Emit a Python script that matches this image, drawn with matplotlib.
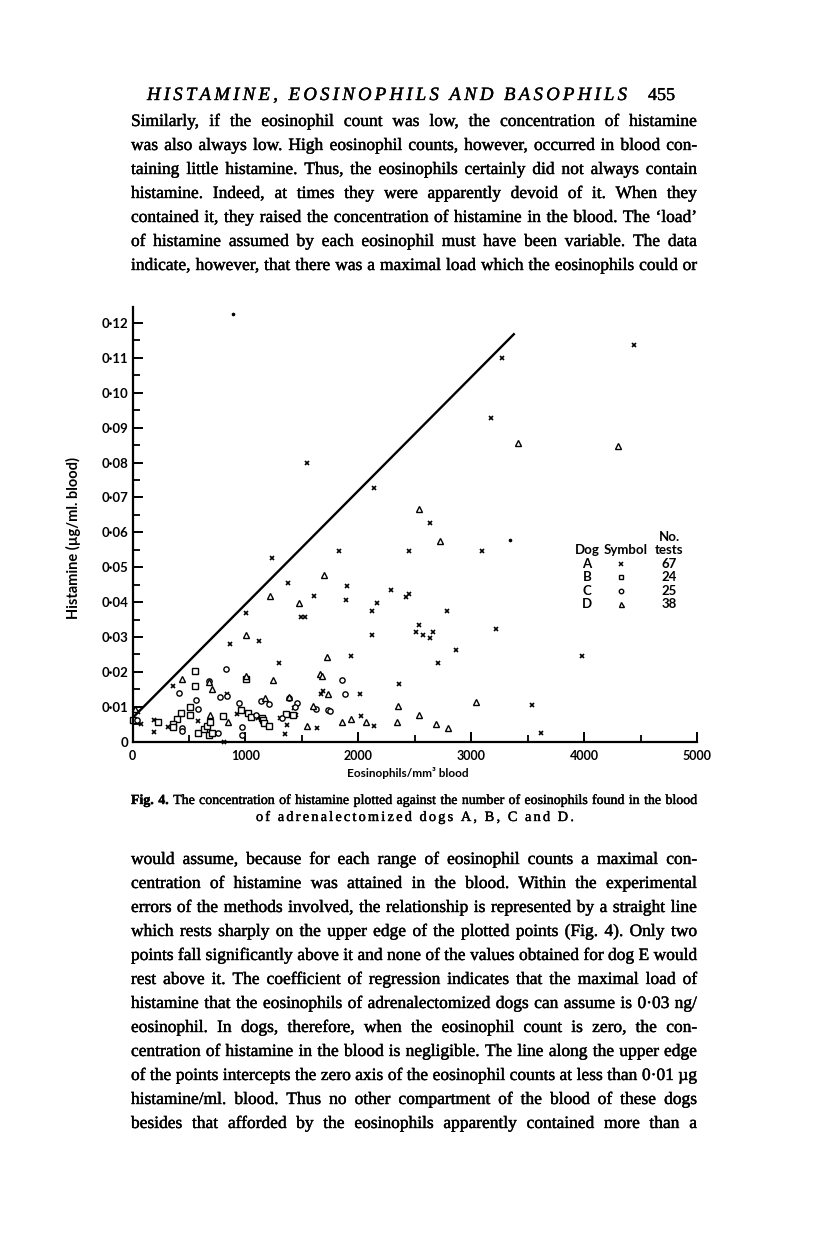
import matplotlib
matplotlib.use("Agg")
import matplotlib.pyplot as plt
import matplotlib.patheffects as pe
from matplotlib.ticker import MultipleLocator, FixedLocator

#### data

# dog A, crosses
a_x = [4440, 3270, 3175, 1545, 2135, 2635, 1830, 2452, 3093, 1240, 1897, 1380,
       2290, 2420, 2450, 1605, 1888, 2166, 2124, 2783, 1003, 1495, 1525, 2538,
       2508, 2665, 2573, 2635, 2124, 3217, 2865, 1120, 864, 1938, 2706, 3984,
       1295, 2358, 1690, 1670, 2018, 3539, 2021, 2139, 1634, 3618, 356, 834,
       583, 928, 1114, 1306, 1448, 1430, 1366, 1355, 810, 312, 190, 193, 75, 50]
a_y = [0.1137, 0.1100, 0.0928, 0.0799, 0.0728, 0.0628, 0.0546, 0.0546, 0.0546,
       0.0527, 0.0446, 0.0456, 0.0435, 0.0416, 0.0423, 0.0417, 0.0406, 0.0397,
       0.0375, 0.0374, 0.0368, 0.0356, 0.0356, 0.0334, 0.0315, 0.0315, 0.0305,
       0.0298, 0.0305, 0.0323, 0.0264, 0.0288, 0.0279, 0.0245, 0.0225, 0.0246,
       0.0226, 0.0165, 0.0146, 0.0137, 0.0136, 0.0106, 0.0075, 0.0045, 0.0040,
       0.0024, 0.0160, 0.0137, 0.0059, 0.0079, 0.0069, 0.0067, 0.0077, 0.0097,
       0.0048, 0.0023, 0.0000, 0.0041, 0.0027, 0.0062, 0.0051, 0.0085]

# dog B, squares
b_x = [551, 553, 509, 509, 427, 397, 356, 362, 229, 2, 580, 633, 657, 686, 678,
       701, 799, 958, 1003, 1026, 1050, 1145, 1160, 1169, 1212, 1360, 1424]
b_y = [0.0203, 0.0160, 0.0100, 0.0077, 0.0081, 0.0065, 0.0051, 0.0041, 0.0057,
       0.0062, 0.0026, 0.0036, 0.0046, 0.0056, 0.0019, 0.0024, 0.0074, 0.0091,
       0.0179, 0.0083, 0.0072, 0.0068, 0.0061, 0.0053, 0.0046, 0.0079, 0.0077]

# dog C, circles
c_x = [826, 412, 560, 583, 438, 441, 42, 760, 775, 834, 943, 970, 967, 1094,
       1138, 1209, 1390, 1454, 1440, 1327, 678, 1856, 1879, 1625, 1735, 1750]
c_y = [0.0208, 0.0140, 0.0120, 0.0093, 0.0038, 0.0031, 0.0062, 0.0026, 0.0129,
       0.0131, 0.0110, 0.0043, 0.0019, 0.0077, 0.0117, 0.0108, 0.0124, 0.0110,
       0.0100, 0.0069, 0.0175, 0.0176, 0.0136, 0.0093, 0.0092, 0.0089]

# dog D, triangles
d_x = [3415, 4300, 2540, 2721, 1693, 1218, 1472, 1005, 1725, 1661, 1676, 1732,
       3045, 1599, 2354, 2538, 1858, 1935, 2068, 2343, 2688, 2792, 1546, 436,
       678, 707, 684, 849, 1003, 1245, 1174, 1383, 22]
d_y = [0.0857, 0.0847, 0.0667, 0.0576, 0.0477, 0.0417, 0.0398, 0.0307, 0.0244,
       0.0194, 0.0187, 0.0138, 0.0115, 0.0103, 0.0103, 0.0077, 0.0057, 0.0066,
       0.0056, 0.0056, 0.0052, 0.0040, 0.0044, 0.0181, 0.0170, 0.0150, 0.0077,
       0.0056, 0.0188, 0.0177, 0.0124, 0.0127, 0.0093]

# loose dots on the plate
speck_x = [893, 3340]
speck_y = [0.1225, 0.0578]

# the upper-edge line
line_x = [0, 3385]
line_y = [0.0068, 0.1170]

y_ticks = [0.00, 0.01, 0.02, 0.03, 0.04, 0.05, 0.06, 0.07, 0.08, 0.09, 0.10, 0.11, 0.12]
y_tick_labels = ["0", "0\u00b701", "0\u00b702", "0\u00b703", "0\u00b704", "0\u00b705",
                 "0\u00b706", "0\u00b707", "0\u00b708", "0\u00b709", "0\u00b710",
                 "0\u00b711", "0\u00b712"]
x_ticks = [0, 1000, 2000, 3000, 4000, 5000]
x_tick_labels = ["0", "1000", "2000", "3000", "4000", "5000"]

legend_dogs = ["A", "B", "C", "D"]
legend_tests = ["67", "24", "25", "38"]

header = "HISTAMINE, EOSINOPHILS AND BASOPHILS"
page_no = "455"

top_lines = [
    "Similarly, if the eosinophil count was low, the concentration of histamine",
    "was also always low. High eosinophil counts, however, occurred in blood con-",
    "taining little histamine. Thus, the eosinophils certainly did not always contain",
    "histamine. Indeed, at times they were apparently devoid of it. When they",
    "contained it, they raised the concentration of histamine in the blood. The \u2018load\u2019",
    "of histamine assumed by each eosinophil must have been variable. The data",
    "indicate, however, that there was a maximal load which the eosinophils could or",
]

caption_1 = "The concentration of histamine plotted against the number of eosinophils found in the blood"
caption_2 = "of adrenalectomized dogs A, B, C and D."

bottom_lines = [
    "would assume, because for each range of eosinophil counts a maximal con-",
    "centration of histamine was attained in the blood. Within the experimental",
    "errors of the methods involved, the relationship is represented by a straight line",
    "which rests sharply on the upper edge of the plotted points (Fig. 4). Only two",
    "points fall significantly above it and none of the values obtained for dog E would",
    "rest above it. The coefficient of regression indicates that the maximal load of",
    "histamine that the eosinophils of adrenalectomized dogs can assume is 0\u00b703 ng/",
    "eosinophil. In dogs, therefore, when the eosinophil count is zero, the con-",
    "centration of histamine in the blood is negligible. The line along the upper edge",
    "of the points intercepts the zero axis of the eosinophil counts at less than 0\u00b701 \u00b5g",
    "histamine/ml. blood. Thus no other compartment of the blood of these dogs",
    "besides that afforded by the eosinophils apparently contained more than a",
]

#### page setup

W, H = 816, 1258
fig = plt.figure(figsize=(W / 100, H / 100), dpi=100)
fig.patch.set_facecolor("white")
renderer = fig.canvas.get_renderer()

SERIF = "Liberation Serif"
SANS = "Lato"
INK = [pe.withStroke(linewidth=0.3, foreground="black")]  # scanned type is heavy


def fx(px):
    return px / W


def fy(py):
    return 1 - py / H


def text_width(s, size, **kw):
    t = fig.text(0, 0, s, fontsize=size, **kw)
    w = t.get_window_extent(renderer).width
    t.remove()
    return w


def justify(words, y_base, x0, x1, size, min_gap=0.2):
    """ words: list of (word, style dict); spreads them from x0 to x1,
    shrinking the size a bit if the line cannot fit """
    widths = [text_width(w, size, **kw) for w, kw in words]
    need = sum(widths) + min_gap * size * 100 / 72 * (len(words) - 1)
    if need > x1 - x0:
        size *= (x1 - x0) / need
        widths = [text_width(w, size, **kw) for w, kw in words]
    gap = (x1 - x0 - sum(widths)) / max(len(words) - 1, 1)
    x = x0
    for (w, kw), wd in zip(words, widths):
        fig.text(fx(x), fy(y_base), w, fontsize=size, va="baseline", ha="left",
                 path_effects=INK, **kw)
        x += wd + gap


def tracked(s, y_base, x0, x1, size, **kw):
    """ letter-spaced line filling x0..x1 """
    chars = list(s)
    widths = [text_width(c, size, **kw) if c != " " else size * 0.3 for c in chars]
    gap = (x1 - x0 - sum(widths)) / (len(chars) - 1)
    x = x0
    for c, w in zip(chars, widths):
        if c != " ":
            fig.text(fx(x), fy(y_base), c, fontsize=size, va="baseline", ha="left",
                     path_effects=INK, **kw)
        x += w + gap


# body size: a typical line sets at about 95 % of the measure
LEFT, RIGHT = 131, 697
body_kw = dict(family=SERIF)
nat = sorted(text_width(s, 10, **body_kw) for s in top_lines + bottom_lines)
body_size = 10 * 0.95 * (RIGHT - LEFT) / nat[len(nat) // 2]

#### running head

tracked(header, 100, 147, 627, 13.5, family=SERIF, style="italic")
fig.text(fx(648), fy(100), page_no, fontsize=13, family=SERIF, va="baseline",
         ha="left", path_effects=INK)

#### top paragraph

for i, s in enumerate(top_lines):
    justify([(w, body_kw) for w in s.split()], 126 + 24 * i, LEFT, RIGHT, body_size)

#### chart

ax = fig.add_axes([fx(132.5), fy(741.7), fx(697) - fx(132.5), (741.7 - 307) / H])
ax.set_xlim(0, 5000)
ax.set_ylim(0, (741.7 - 307) / 3490)

ax.plot(line_x, line_y, color="black", lw=1.7, solid_capstyle="butt")
ax.plot(a_x, a_y, ls="none", marker="x", ms=3.2, mew=1.2, color="black", clip_on=False)
ax.plot(b_x, b_y, ls="none", marker="s", ms=3.8, mew=1.0, mfc="white", mec="black", clip_on=False)
ax.plot(c_x, c_y, ls="none", marker="o", ms=3.8, mew=1.0, mfc="white", mec="black", clip_on=False)
ax.plot(d_x, d_y, ls="none", marker="^", ms=4.4, mew=1.0, mfc="white", mec="black", clip_on=False)
ax.plot(speck_x, speck_y, ls="none", marker="o", ms=1.6, color="black", clip_on=False)

for side in ["top", "right"]:
    ax.spines[side].set_visible(False)
for side in ["left", "bottom"]:
    ax.spines[side].set_linewidth(1.6)

ax.xaxis.set_major_locator(FixedLocator(x_ticks))
ax.xaxis.set_minor_locator(MultipleLocator(500))
ax.yaxis.set_major_locator(FixedLocator(y_ticks))
ax.yaxis.set_minor_locator(MultipleLocator(0.005))
ax.set_xticklabels(x_tick_labels, fontsize=9, family=SANS, fontweight="bold")
ax.set_yticklabels(y_tick_labels, fontsize=9.5, family=SANS, fontweight="bold")
ax.tick_params(which="major", direction="in", length=7, width=1.4, pad=3)
ax.tick_params(which="minor", direction="in", length=5, width=1.3)
ax.tick_params(axis="x", which="major", pad=6)

fig.text(fx(73), fy(538), "Histamine (\u00b5g/ml. blood)", rotation=90, fontsize=10.5,
         family=SANS, fontweight="bold", ha="center", va="center")
fig.text(fx(408), fy(773), "Eosinophils/mm\u00b3 blood", fontsize=8.5,
         family=SANS, fontweight="bold", ha="center", va="center")

# legend table inside the plot
leg_kw = dict(fontsize=9.5, family=SANS, fontweight="bold", ha="center", va="center")
fig.text(fx(669), fy(537), "No.", **leg_kw)
fig.text(fx(587), fy(550), "Dog", **leg_kw)
fig.text(fx(626), fy(550), "Symbol", **leg_kw)
fig.text(fx(669), fy(550), "tests", **leg_kw)
leg_markers = [dict(marker="x", ms=2.8, mew=1.1, color="black"),
               dict(marker="s", ms=3.2, mew=1.0, mfc="white", mec="black"),
               dict(marker="o", ms=3.2, mew=1.0, mfc="white", mec="black"),
               dict(marker="^", ms=3.6, mew=1.0, mfc="white", mec="black")]
for i, (dog, n, mk) in enumerate(zip(legend_dogs, legend_tests, leg_markers)):
    yy = 564 + 13.5 * i
    fig.text(fx(587), fy(yy), dog, **leg_kw)
    fig.text(fx(669), fy(yy), n, **leg_kw)
    ax.plot([fx(621)], [fy(yy)], ls="none", transform=fig.transFigure, clip_on=False, **mk)

#### caption

cap_words = [("Fig.", dict(family=SERIF, fontweight="bold")),
             ("4.", dict(family=SERIF, fontweight="bold"))]
cap_words += [(w, dict(family=SERIF)) for w in caption_1.split()]
justify(cap_words, 804, LEFT, RIGHT, 10, min_gap=0.22)
tracked(caption_2, 821, 256, 574, 10.3, family=SERIF)

#### bottom paragraph

for i, s in enumerate(bottom_lines):
    justify([(w, body_kw) for w in s.split()], 864 + 24 * i, LEFT, RIGHT, body_size)

fig.savefig("out.png", dpi=100)
